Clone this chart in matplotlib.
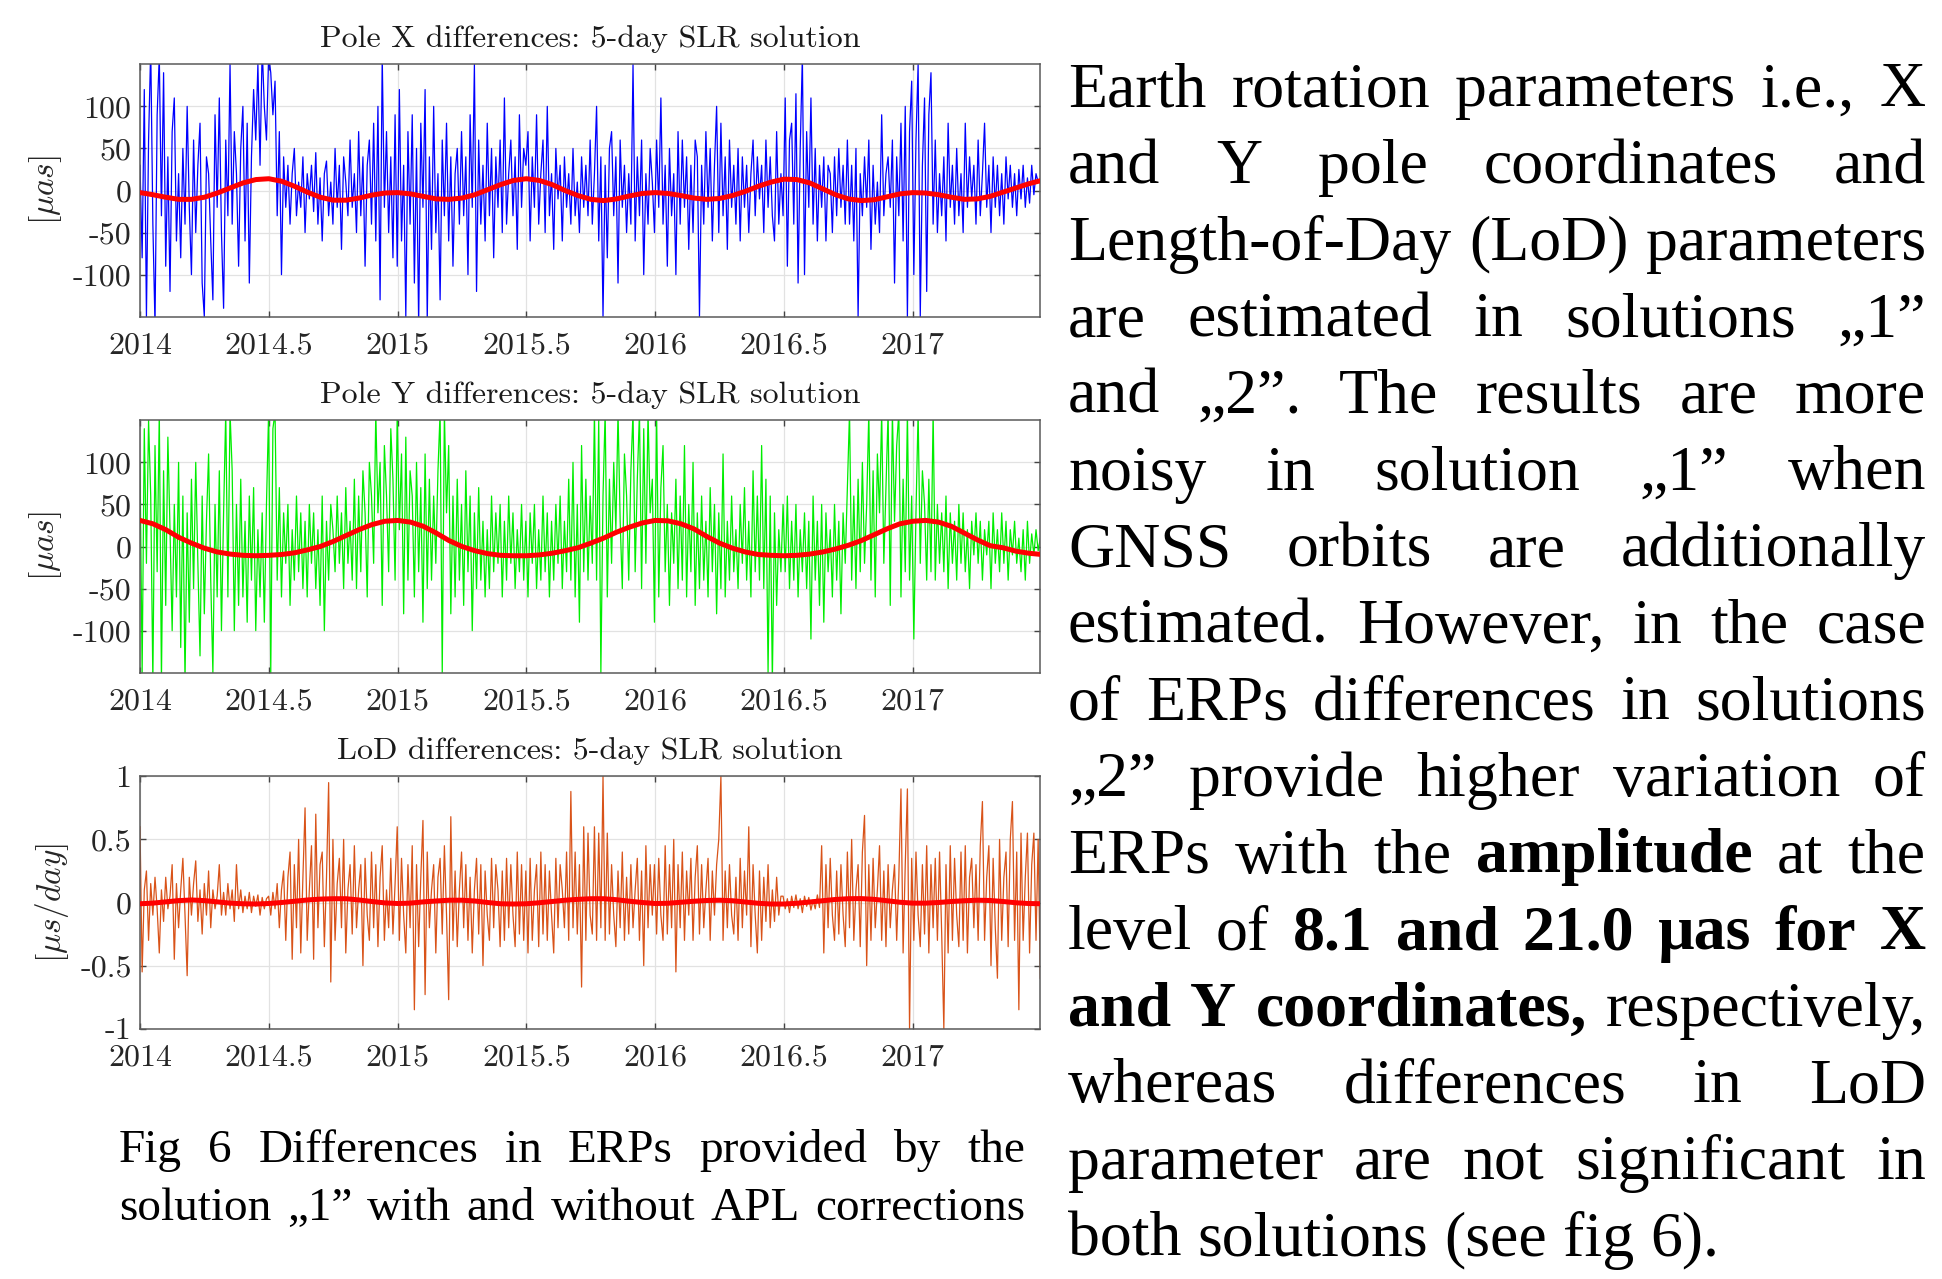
import matplotlib
matplotlib.use('Agg')
import matplotlib.pyplot as plt
import numpy as np
from matplotlib.transforms import IdentityTransform

plt.rcParams['mathtext.fontset'] = 'cm'
plt.rcParams['axes.unicode_minus'] = False

# ---------------- data ----------------
T_START, T_END = 2014.0, 2017.495

POLE_X = [
    # 2014.0 - 2014.5
    30,-80,120,-150,60,170,-40,-160,90,160,
    -30,140,-90,40,-120,70,110,-60,20,-80,
    50,-40,100,-20,-100,60,-50,30,80,-110,
    -150,40,20,-60,-130,90,-20,110,-50,-140,
    60,-30,150,-40,70,20,-90,50,100,-60,
    80,-110,40,120,60,150,30,170,100,60,
    # 2014.5 - 2015.0
    160,140,90,130,-30,70,-100,40,-20,30,
    -40,20,50,-30,10,-20,40,-50,20,-10,
    30,-25,45,-40,15,-60,20,35,-30,10,
    -40,50,-20,30,-70,40,10,-30,60,-20,
    20,-50,70,-30,40,-90,30,60,-40,80,
    -60,100,-130,160,-20,70,-50,40,-80,90,
    # 2015.0 - 2015.5
    -90,120,-60,30,-150,70,-40,90,-110,50,
    -160,80,-20,120,-155,40,-70,100,-50,20,
    -130,60,-30,80,-60,40,-90,20,50,-40,
    70,-30,40,-100,90,-20,150,-120,60,-40,
    30,-60,80,-30,50,-80,40,-20,60,-50,
    110,-40,20,60,-30,40,-70,90,-20,50,
    # 2015.5 - 2016.0
    30,70,-60,40,-20,90,-40,20,60,-50,
    100,-30,20,-70,50,-10,30,-60,40,-20,
    20,-40,50,-30,10,-50,40,-20,30,-30,
    60,-40,20,100,-60,40,-150,30,-80,50,
    70,-30,40,-110,60,-20,30,-50,20,-40,
    150,-60,40,-30,60,-100,20,-40,50,10,
    # 2016.0 - 2016.5
    -50,60,-20,110,-40,30,-90,50,-30,20,
    -100,70,-40,60,-20,40,-70,30,-50,60,
    40,-150,30,-40,70,-20,50,-60,30,100,
    -50,80,-30,40,-70,60,-20,30,-40,50,
    -60,40,-20,30,-50,20,60,-30,40,-10,
    30,-50,60,-20,40,-30,-60,70,-40,20,
    # 2016.5 - 2017.0
    -30,110,-90,60,80,-40,115,-110,50,160,
    -100,70,-20,110,-40,50,-60,30,-20,40,
    -60,30,20,-50,40,-30,50,-20,30,-40,
    60,-40,30,-60,50,-150,20,-30,40,-20,
    60,-70,30,-40,10,-50,90,-30,20,40,
    -20,60,-110,40,-30,80,-60,100,-150,70,
    # 2017.0 - 2017.5
    130,-100,60,150,-150,30,110,-120,90,140,
    -40,60,-50,20,-30,40,-60,80,-20,30,
    -40,50,-30,20,-50,80,-20,40,-10,30,
    -40,60,-30,20,80,-20,30,-50,40,-20,
    30,-30,20,-40,40,-10,30,-20,20,-30,
    25,-10,30,-20,15,-15,30,-5,20,10,
    10]

POLE_Y = [
    # 2014.0 - 2014.5
    100,-150,140,-20,150,60,-160,120,-30,160,
    -160,90,-70,130,20,-100,50,-60,100,-120,
    60,-160,40,-90,80,-50,100,-20,-130,60,
    -80,30,110,-40,-150,50,-60,90,-100,40,
    160,-60,160,90,-100,50,-70,80,-60,30,
    -90,60,-40,70,-100,20,-60,40,-90,50,
    # 2014.5 - 2015.0
    160,-150,140,160,-40,70,-60,40,-20,50,
    -70,20,-40,60,-30,40,-50,30,-60,50,
    -20,40,-50,20,-70,60,-100,30,-40,50,
    20,-30,60,-20,40,-50,70,-20,30,-40,
    80,-50,60,-30,90,40,-60,100,60,-20,
    160,40,100,-70,120,60,-30,140,80,-40,
    # 2015.0 - 2015.5
    160,20,110,-80,130,-40,90,60,-60,100,
    -30,70,-90,110,-50,80,-40,60,-20,90,
    160,-150,160,40,120,-80,60,-60,80,-40,
    50,-70,90,-30,60,-100,40,-50,70,-40,
    30,-60,20,-50,60,-30,40,-20,50,-60,
    30,-40,60,-20,40,-50,20,-30,50,-40,
    # 2015.5 - 2016.0
    30,-60,40,-20,50,-50,20,-40,60,-30,
    40,-60,30,-40,50,-20,60,-50,30,-30,
    80,-40,100,-60,50,-90,120,-30,80,-40,
    60,-20,160,-40,150,-150,60,160,-60,80,
    -20,100,20,160,30,-50,110,60,-40,90,
    160,-30,80,160,-50,140,-20,160,40,80,
    # 2016.0 - 2016.5
    -90,160,-60,70,120,-30,50,-70,40,-20,
    80,-50,60,-40,120,-60,50,-30,100,-70,
    40,-50,60,-40,30,-60,70,-30,50,-80,
    40,-50,110,-60,30,-40,60,-30,20,-50,
    50,-20,70,-40,30,-60,90,-30,60,-40,
    120,-50,80,-150,60,-160,40,-70,20,-30,
    # 2016.5 - 2017.0
    50,-30,60,-50,30,-40,50,-60,20,-30,
    40,-50,30,-110,60,-40,30,-70,50,-90,
    40,-30,20,-60,50,-40,30,-80,40,-20,
    70,160,-40,60,-50,80,-30,100,-20,50,
    160,-40,90,-60,110,40,160,-20,70,160,
    -70,160,30,120,160,-60,80,-30,160,-40,
    # 2017.0 - 2017.5
    60,-110,40,160,-20,90,50,-40,80,-30,
    160,-40,50,-20,40,-30,60,-50,40,-20,
    30,-40,50,-20,40,-30,20,-50,30,-10,
    40,-20,30,-40,20,-10,30,-50,40,-20,
    20,-30,40,-20,30,-40,20,-10,30,-20,
    10,-30,20,-40,30,-20,15,-10,20,-5,
    10]

LOD = [
    # 2014.0 - 2014.5
    0.6,-0.55,0.1,0.25,-0.3,0.15,-0.1,0.2,-0.05,-0.4,
    0.1,-0.15,0.2,-0.05,0.05,0.3,-0.45,0.15,-0.2,0.1,
    0.35,-0.1,-0.58,0.2,-0.1,0.15,0.33,-0.15,0.1,-0.25,
    0.15,-0.1,0.25,-0.2,0.1,-0.05,0.05,0.3,-0.1,0.08,
    -0.1,0.15,-0.05,0.1,-0.15,0.3,-0.05,0.1,-0.08,0.05,
    -0.05,0.08,-0.08,0.05,-0.03,0.06,-0.1,0.04,-0.05,0.03,
    # 2014.5 - 2015.0
    0.05,-0.1,0.08,-0.05,0.15,-0.2,0.1,0.25,-0.3,0.2,
    0.4,-0.45,0.3,-0.2,0.5,-0.4,0.2,0.75,-0.3,0.1,
    0.45,-0.45,0.7,-0.2,0.3,0.4,-0.35,0.2,0.95,-0.63,
    0.5,-0.3,0.15,0.35,-0.2,0.5,-0.4,0.1,0.3,-0.25,
    0.45,-0.2,0.1,0.3,-0.5,0.35,-0.1,-0.3,0.4,-0.2,
    0.3,-0.35,0.2,0.45,-0.3,0.1,-0.2,0.35,-0.25,0.15,
    # 2015.0 - 2015.5
    0.6,-0.3,0.35,-0.1,-0.4,0.3,-0.2,0.45,-0.85,0.3,
    -0.35,0.2,0.65,-0.73,0.4,-0.2,0.1,0.3,-0.4,0.2,
    0.35,-0.25,0.45,-0.1,-0.77,0.68,-0.3,0.25,-0.35,0.1,
    0.4,-0.2,0.3,-0.3,0.2,-0.4,0.1,0.35,-0.25,0.3,
    -0.5,0.25,-0.1,-0.3,0.35,-0.2,0.3,0.1,-0.35,0.25,
    -0.3,0.35,-0.2,0.3,-0.1,-0.35,0.4,-0.25,0.3,-0.3,
    # 2015.5 - 2016.0
    0.25,-0.4,0.35,-0.3,0.1,0.3,-0.35,0.4,-0.25,0.3,
    -0.3,0.25,-0.1,-0.4,0.35,-0.2,0.3,0.1,-0.2,0.4,
    -0.3,0.88,-0.2,0.4,-0.25,0.3,-0.67,0.6,-0.3,0.55,
    -0.1,-0.25,0.6,-0.3,0.55,-0.2,1.0,-0.3,0.55,-0.25,
    0.3,-0.1,-0.35,0.25,-0.2,0.4,-0.3,0.2,-0.25,0.3,
    -0.2,0.1,0.35,-0.3,0.25,-0.5,0.45,-0.2,0.3,-0.1,
    # 2016.0 - 2016.5
    0.3,-0.25,0.35,-0.1,-0.3,0.45,-0.25,0.3,-0.2,0.5,
    -0.55,0.3,-0.2,0.4,-0.3,0.25,-0.1,0.35,-0.3,0.2,
    0.45,-0.25,0.3,-0.2,0.1,0.35,-0.3,0.25,-0.1,0.3,
    0.5,1.0,-0.3,0.25,-0.2,0.3,-0.1,-0.25,0.2,-0.3,
    0.35,-0.2,0.25,-0.1,0.6,-0.35,0.3,-0.1,-0.4,0.25,
    -0.3,0.2,-0.15,0.3,-0.2,0.1,-0.15,0.2,-0.1,0.05,
    # 2016.5 - 2017.0
    0.05,-0.05,0.03,-0.08,0.05,-0.04,0.06,-0.05,0.03,-0.08,
    0.05,-0.03,0.04,-0.06,0.02,-0.05,0.06,-0.04,0.45,-0.4,
    0.3,-0.2,0.35,-0.1,-0.3,0.25,-0.25,0.3,-0.1,-0.35,
    0.4,-0.2,0.5,-0.3,0.1,0.3,-0.35,0.4,0.69,-0.5,
    0.3,-0.3,0.35,-0.2,0.1,0.45,-0.3,0.25,-0.35,0.3,
    -0.2,0.1,0.3,-0.3,0.2,0.9,-0.4,0.3,0.9,-1.0,
    # 2017.0 - 2017.5
    0.35,-0.3,0.4,-0.1,-0.35,0.3,-0.25,0.45,-0.4,0.3,
    -0.2,0.35,-0.3,0.4,-0.25,-1.0,0.3,-0.4,0.45,-0.3,
    0.35,-0.1,-0.35,0.4,-0.3,0.45,-0.4,0.2,0.35,-0.2,
    0.3,-0.3,0.45,0.8,-0.3,0.2,0.45,-0.5,0.35,-0.2,
    -0.6,0.5,-0.3,0.2,0.4,-0.35,0.5,0.8,-0.3,0.4,
    -0.85,0.55,-0.3,0.2,0.55,-0.4,0.3,0.55,-0.3,0.5,
    -0.6]

FIT_START, FIT_END = 2014.0, 2017.5
FIT_X = [-2.5,-5,-8,-10.5,-10.5,-8,-3,3,9,13,14,11,5,-2,-8,-11.5,-11.5,-9,-5.5,-3,
         -2.5,-4,-7,-10,-10.5,-9,-5,1,7,12,14,12,7,0,-6,-10.5,-12,-10,-6.5,-3.5,
         -2.5,-3.5,-6,-9,-10.5,-9.5,-6,-1,5,10,13.5,13,9,2,-5,-10,-12,-11,-7.5,-4,
         -2.5,-3,-5,-8,-10.5,-10,-7,-2,3,8,12]
FIT_Y = [31,27,20,11,4,-2,-6.5,-9,-10.5,-11,-10.5,-9.5,-7.5,-4,0,6,13,20,26,30,
         31,29,24,16,7,0,-5,-8.5,-10.5,-11,-11,-10,-8,-5,-1.5,4,10,17,23,28,
         31,30.5,27,21,12,4,-2,-6.5,-9.5,-10.5,-11,-10.5,-9,-6.5,-3,1.5,7,14,21,27,
         30,31,29,24,16,8,1,-1.5,-5.5,-8,-9.5]
FIT_LOD = [-0.01,-0.005,0.005,0.015,0.02,0.015,0.005,-0.005,-0.01,-0.012,-0.008,0.0,0.01,0.02,0.027,0.03,0.03,0.02,0.008,-0.003,
           -0.008,-0.005,0.005,0.012,0.018,0.018,0.012,0.0,-0.01,-0.012,-0.01,-0.002,0.008,0.018,0.025,0.03,0.03,0.022,0.01,0.0,
           -0.008,-0.006,0.002,0.01,0.016,0.018,0.014,0.004,-0.006,-0.012,-0.012,-0.006,0.004,0.014,0.024,0.03,0.031,0.025,0.014,0.002,
           -0.005,-0.005,0.0,0.008,0.014,0.018,0.016,0.008,-0.002,-0.008,-0.01]

TITLES = ["Pole X differences: 5-day SLR solution",
          "Pole Y differences: 5-day SLR solution",
          "LoD differences: 5-day SLR solution"]
YLABELS = [r'$[\mu as]$', r'$[\mu as]$', r'$[\mu s/day]$']
XTICKS = [2014, 2014.5, 2015, 2015.5, 2016, 2016.5, 2017]
XTICKLABELS = ["2014", "2014.5", "2015", "2015.5", "2016", "2016.5", "2017"]
YTICKS_POLE = [-100, -50, 0, 50, 100]
YTICKLABELS_POLE = ["-100", "-50", "0", "50", "100"]
YTICKS_LOD = [-1, -0.5, 0, 0.5, 1]
YTICKLABELS_LOD = ["-1", "-0.5", "0", "0.5", "1"]

CAPTION = [[("Fig", 0), ("6", 0), ("Differences", 0), ("in", 0), ("ERPs", 0), ("provided", 0), ("by", 0), ("the", 0)],
           [("solution", 0), ("\u201e1\u201d", 0), ("with", 0), ("and", 0), ("without", 0), ("APL", 0), ("corrections", 0)]]

PARAGRAPH = [
    [("Earth", 0), ("rotation", 0), ("parameters", 0), ("i.e.,", 0), ("X", 0)],
    [("and", 0), ("Y", 0), ("pole", 0), ("coordinates", 0), ("and", 0)],
    [("Length-of-Day", 0), ("(LoD)", 0), ("parameters", 0)],
    [("are", 0), ("estimated", 0), ("in", 0), ("solutions", 0), ("\u201e1\u201d", 0)],
    [("and", 0), ("\u201e2\u201d.", 0), ("The", 0), ("results", 0), ("are", 0), ("more", 0)],
    [("noisy", 0), ("in", 0), ("solution", 0), ("\u201e1\u201d", 0), ("when", 0)],
    [("GNSS", 0), ("orbits", 0), ("are", 0), ("additionally", 0)],
    [("estimated.", 0), ("However,", 0), ("in", 0), ("the", 0), ("case", 0)],
    [("of", 0), ("ERPs", 0), ("differences", 0), ("in", 0), ("solutions", 0)],
    [("\u201e2\u201d", 0), ("provide", 0), ("higher", 0), ("variation", 0), ("of", 0)],
    [("ERPs", 0), ("with", 0), ("the", 0), ("amplitude", 1), ("at", 0), ("the", 0)],
    [("level", 0), ("of", 0), ("8.1", 1), ("and", 1), ("21.0", 1), ("\u00b5as", 1), ("for", 1), ("X", 1)],
    [("and", 1), ("Y", 1), ("coordinates,", 1), ("respectively,", 0)],
    [("whereas", 0), ("differences", 0), ("in", 0), ("LoD", 0)],
    [("parameter", 0), ("are", 0), ("not", 0), ("significant", 0), ("in", 0)],
    [("both", 0), ("solutions", 0), ("(see", 0), ("fig", 0), ("6).", 0)],
]

# ---------------- figure ----------------
W, H = 1942, 1279
fig = plt.figure(figsize=(W / 100, H / 100), dpi=100)
fig.patch.set_facecolor('white')

LEFT = 140 / W
WIDTH = 900.3 / W
HGT = 252.4 / H
BOTTOMS = [1 - 316.7 / H, 1 - 672.7 / H, 1 - 1028.7 / H]

series = [POLE_X, POLE_Y, LOD]
fits = [FIT_X, FIT_Y, FIT_LOD]
colors = ['#0000ff', '#00ee00', '#d95319']
ylims = [(-150, 150), (-150, 150), (-1, 1)]
yticks = [(YTICKS_POLE, YTICKLABELS_POLE), (YTICKS_POLE, YTICKLABELS_POLE), (YTICKS_LOD, YTICKLABELS_LOD)]
ylab_x = [-0.0844, -0.0844, -0.0766]

CM = 'cmr10'
for i in range(3):
    ax = fig.add_axes([LEFT, BOTTOMS[i], WIDTH, HGT])
    vals = np.array(series[i], dtype=float)
    t = np.linspace(T_START, T_END, len(vals))
    ax.plot(t, vals, color=colors[i], lw=0.9, zorder=2)
    fv = np.array(fits[i], dtype=float)
    tf = np.linspace(FIT_START, FIT_END, len(fv))
    ax.plot(tf, fv, color='#ff0000', lw=3.6, zorder=3, solid_capstyle='round')
    ax.set_xlim(T_START, T_END)
    ax.set_ylim(*ylims[i])
    ax.set_xticks(XTICKS)
    ax.set_xticklabels(XTICKLABELS, fontfamily=CM, fontsize=23, color='#262626')
    ax.set_yticks(yticks[i][0])
    ax.set_yticklabels(yticks[i][1], fontfamily=CM, fontsize=23, color='#262626')
    ax.tick_params(axis='both', direction='in', length=4, width=1.0, color='#444444',
                   top=True, right=True)
    ax.tick_params(axis='x', pad=11)
    ax.tick_params(axis='y', pad=6)
    ax.grid(True, color='#e2e2e2', lw=0.9)
    ax.set_axisbelow(True)
    for sp in ax.spines.values():
        sp.set_color('#5a5a5a')
        sp.set_linewidth(1.1)
    ax.set_title(TITLES[i], fontfamily=CM, fontsize=23, pad=12.5, color='#1a1a1a')
    ax.set_ylabel(YLABELS[i], fontsize=24, color='#262626')
    ax.yaxis.set_label_coords(ylab_x[i], 0.5)

# ---------------- text blocks ----------------
renderer = fig.canvas.get_renderer()
SERIF = 'Liberation Serif'


def text_width(s, size, bold=False):
    tt = fig.text(0, 0, s, fontsize=size, family=SERIF,
                  fontweight='bold' if bold else 'normal', transform=IdentityTransform())
    w = tt.get_window_extent(renderer).width
    tt.remove()
    return w


def place_line(tokens, x0, x1, y_top, size, justify=True):
    ypix = H - y_top
    widths = [text_width(w, size, b) for w, b in tokens]
    space = text_width("a a", size) - text_width("aa", size)
    n = len(tokens)
    if justify and n > 1:
        gap = (x1 - x0 - sum(widths)) / (n - 1)
    else:
        gap = space
    x = x0
    for (w, b), wd in zip(tokens, widths):
        fig.text(x, ypix, w, fontsize=size, family=SERIF,
                 fontweight='bold' if b else 'normal', color='black',
                 ha='left', va='baseline', transform=IdentityTransform())
        x += wd + gap


PARA_SIZE = 46
PARA_X0, PARA_X1 = 1068, 1926
for k, line in enumerate(PARAGRAPH):
    place_line(line, PARA_X0, PARA_X1, 106.5 + 76.6 * k, PARA_SIZE,
               justify=(k < len(PARAGRAPH) - 1))

CAP_SIZE = 34
CAP_X0, CAP_X1 = 119, 1025
for k, line in enumerate(CAPTION):
    place_line(line, CAP_X0, CAP_X1, 1162 + 58 * k, CAP_SIZE, justify=True)

fig.savefig('out.png', dpi=100, facecolor='white')
